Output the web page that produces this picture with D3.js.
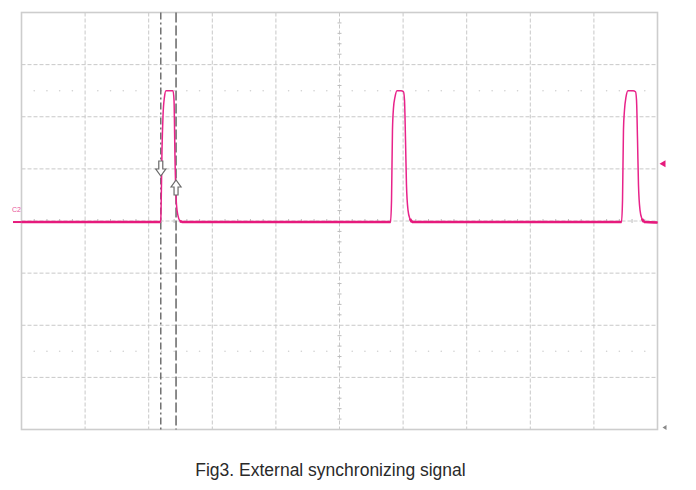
<!DOCTYPE html>
<html><head><meta charset="utf-8">
<script src="https://cdn.jsdelivr.net/npm/d3@7"></script>
<style>html,body{margin:0;padding:0;background:#fff}svg{display:block}</style>
</head><body><svg id="c" width="696" height="490"></svg>
<script>
// Time in horizontal divisions (0..10), voltage in vertical divisions (-4..4)
const timeDivs = [0,1,2,3,4,5,6,7,8,9,10];
const voltDivs = [-4,-3,-2,-1,0,1,2,3,4];
const traceTime = [0, 2.186,2.193,2.209,2.225,2.248,2.272,2.382,2.398,2.414,2.437,2.461,2.492,2.524,
  5.802,5.818,5.833,5.849,5.873,5.904,5.967,6.006,6.022,6.038,6.053,6.077,6.108,6.140,
  9.434,9.450,9.465,9.481,9.505,9.536,9.615,9.654,9.670,9.686,9.701,9.725,9.756,9.788,10];
const traceVolt = [-0.02, -0.02,0.115,1.36,2.02,2.38,2.5,2.5,2.32,1.17,0.31,0.10,0.0,-0.02,
  -0.02,0.40,1.75,2.17,2.38,2.5,2.5,2.48,2.32,1.55,0.69,0.21,0.04,-0.02,
  -0.02,0.40,1.75,2.13,2.38,2.5,2.5,2.48,2.32,1.55,0.69,0.21,0.04,-0.02,-0.03];
const cursorTimes = [2.19, 2.43];
const triggerLevel = 1.1;
const channelLabel = "C2";
const caption = "Fig3. External synchronizing signal";

const svg = d3.select("#c");
const x = d3.scaleLinear().domain([0,10]).range([21.5,657.5]);
const y = d3.scaleLinear().domain([-4,4]).range([429.5,12.5]);
const grid = "#c8c8c8";

// grid lines
svg.append("g").selectAll("line").data(timeDivs.slice(1,-1)).join("line")
  .attr("x1",d=>x(d)).attr("x2",d=>x(d)).attr("y1",y(4)).attr("y2",y(-4))
  .attr("stroke",grid).attr("stroke-width",1).attr("stroke-dasharray","4,2");
svg.append("g").selectAll("line").data(voltDivs.slice(1,-1)).join("line")
  .attr("y1",d=>y(d)).attr("y2",d=>y(d)).attr("x1",x(0)).attr("x2",x(10))
  .attr("stroke",grid).attr("stroke-width",1).attr("stroke-dasharray","4,2");

// dotted rows at ±2.5 div
const sub = d3.range(1,50).filter(k=>k%5!==0).map(k=>k*0.2);
[2.5,-2.5].forEach(v=>{
  svg.append("g").selectAll("circle").data(sub).join("circle")
    .attr("cx",d=>x(d)).attr("cy",y(v)).attr("r",0.8).attr("fill","#d0d0d0");
});
// center ticks
const subV = d3.range(-19,20).filter(k=>k%5!==0).map(k=>k*0.2);
svg.append("g").selectAll("line").data(subV).join("line")
  .attr("x1",x(5)-2).attr("x2",x(5)+2).attr("y1",d=>y(d)).attr("y2",d=>y(d))
  .attr("stroke","#bcbcbc").attr("stroke-width",1);
svg.append("g").selectAll("line").data(sub).join("line")
  .attr("y1",y(0)-2).attr("y2",y(0)+2).attr("x1",d=>x(d)).attr("x2",d=>x(d))
  .attr("stroke","#bcbcbc").attr("stroke-width",1);

// border
svg.append("rect").attr("x",x(0)).attr("y",y(4)).attr("width",x(10)-x(0)).attr("height",y(-4)-y(4))
  .attr("fill","none").attr("stroke","#cdcdcd").attr("stroke-width",1.6);

// cursors
svg.append("line").attr("x1",x(cursorTimes[0])).attr("x2",x(cursorTimes[0])).attr("y1",y(4)).attr("y2",y(-4))
  .attr("stroke","#666").attr("stroke-width",1.4).attr("stroke-dasharray","7,3,2,3");
svg.append("line").attr("x1",x(cursorTimes[1])).attr("x2",x(cursorTimes[1])).attr("y1",y(4)).attr("y2",y(-4))
  .attr("stroke","#707070").attr("stroke-width",1.6).attr("stroke-dasharray","10,3");

// trace
const pts = traceTime.map((t,i)=>[t,traceVolt[i]]);
const line = d3.line().x(d=>x(d[0])).y(d=>y(d[1])).curve(d3.curveMonotoneX);
svg.append("path").attr("d",line(pts)).attr("fill","none")
  .attr("stroke","#e8238a").attr("stroke-width",1.5).attr("stroke-linejoin","round");
// thicker (noisy) baseline segments
const baseLine = d3.line().x(d=>x(d[0])).y(d=>y(d[1]))
  .defined((d,i)=>Math.abs(d[1])<0.05);
const segs = [];
for(let i=0;i<pts.length-1;i++){
  if(Math.abs(pts[i][1])<0.05 && Math.abs(pts[i+1][1])<0.05) segs.push([pts[i],pts[i+1]]);
}
svg.append("g").selectAll("path").data(segs).join("path").attr("d",d=>baseLine(d))
  .attr("fill","none").attr("stroke","#e61a7c").attr("stroke-width",2.6);

// channel marker
svg.append("line").attr("x1",13).attr("x2",x(0)).attr("y1",y(-0.02)).attr("y2",y(-0.02))
  .attr("stroke","#e61a7c").attr("stroke-width",2);
svg.append("text").attr("x",12).attr("y",y(0)-9).attr("font-size",7).attr("fill","#e8559a")
  .attr("font-family","Liberation Sans, Arial, sans-serif").text(channelLabel);

// trigger level marker
const ty = y(triggerLevel);
svg.append("path").attr("d",`M${x(10)+2},${ty} L${x(10)+8},${ty-3.5} L${x(10)+8},${ty+3.5} Z`).attr("fill","#e61a7c");
// bottom-right marker
svg.append("path").attr("d",`M${x(10)+5},${y(-4)-2} L${x(10)+9},${y(-4)-4.5} L${x(10)+9},${y(-4)+0.5} Z`).attr("fill","#888");

// cursor arrows
function arrow(cx, tipY, dir){ // dir 1 = down, -1 = up
  const s = dir;
  const p = [[cx-2,tipY-s*15],[cx+2,tipY-s*15],[cx+2,tipY-s*7],[cx+5,tipY-s*7],[cx,tipY],[cx-5,tipY-s*7],[cx-2,tipY-s*7]];
  svg.append("path").attr("d","M"+p.map(q=>q.join(",")).join("L")+"Z")
    .attr("fill","#fff").attr("stroke","#6a6a6a").attr("stroke-width",1.2);
}
arrow(x(cursorTimes[0]), 176, 1);
arrow(x(cursorTimes[1]), 180, -1);

// caption
svg.append("text").attr("x",330.5).attr("y",476).attr("text-anchor","middle")
  .attr("font-family","Liberation Sans, Arial, sans-serif").attr("font-size",17.5).attr("fill","#2a2a2a")
  .text(caption);
</script></body></html>
